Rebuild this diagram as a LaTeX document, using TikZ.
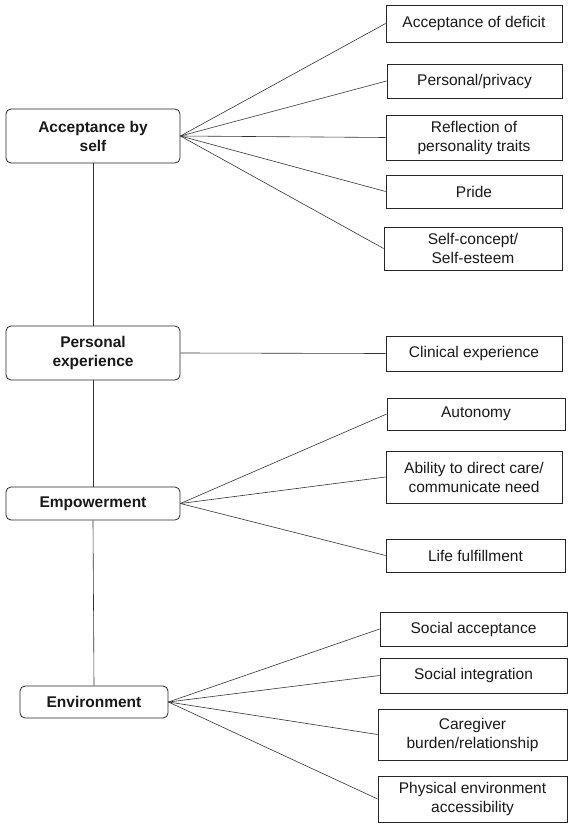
\documentclass[tikz,border=0pt]{standalone}
\usepackage{fontspec}
\setmainfont{Liberation Sans}
\begin{document}
\begin{tikzpicture}[x=1pt,y=-1pt,
  lbox/.style={draw=black!85, line width=0.8pt, rounded corners=5pt, align=center, inner sep=0pt,
    font=\fontsize{15.5}{19}\selectfont\bfseries, text=black!90},
  rbox/.style={draw=black!85, line width=0.8pt, align=center, inner sep=0pt,
    font=\fontsize{15.5}{19}\selectfont, text=black!90},
  link/.style={draw=black!80, line width=0.6pt}]
\useasboundingbox (0,0) rectangle (574,829);
% left boxes
\node[lbox, minimum width=174pt, minimum height=54pt] (ls) at (93,136) {Acceptance by\\self};
\node[lbox, minimum width=174pt, minimum height=54pt] (lp) at (93,353) {Personal\\experience};
\node[lbox, minimum width=174pt, minimum height=33pt] (le) at (93,503.5) {Empowerment};
\node[lbox, minimum width=148pt, minimum height=32pt] (lv) at (94,702) {Environment};
% right boxes
\node[rbox, minimum width=176pt, minimum height=37pt] (r1) at (474,23.5) {Acceptance of deficit};
\node[rbox, minimum width=175pt, minimum height=34pt] (r2) at (474.5,81) {Personal/privacy};
\node[rbox, minimum width=176pt, minimum height=45pt] (r3) at (474,137.5) {Reflection of\\personality traits};
\node[rbox, minimum width=176pt, minimum height=33pt] (r4) at (474,191.5) {Pride};
\node[rbox, minimum width=178pt, minimum height=43pt] (r5) at (473,248.5) {Self-concept/\\Self-esteem};
\node[rbox, minimum width=176pt, minimum height=35pt] (r6) at (474,353.5) {Clinical experience};
\node[rbox, minimum width=178pt, minimum height=32pt] (r7) at (476,414) {Autonomy};
\node[rbox, minimum width=176pt, minimum height=52pt] (r8) at (474,477) {Ability to direct care/\\communicate need};
\node[rbox, minimum width=179pt, minimum height=33pt] (r9) at (475.5,555.5) {Life fulfillment};
\node[rbox, minimum width=187pt, minimum height=34pt] (r10) at (473.5,629) {Social acceptance};
\node[rbox, minimum width=187pt, minimum height=35pt] (r11) at (473.5,675.5) {Social integration};
\node[rbox, minimum width=189pt, minimum height=51pt] (r12) at (472.5,734.5) {Caregiver\\burden/relationship};
\node[rbox, minimum width=189pt, minimum height=46pt] (r13) at (472.5,799) {Physical environment\\accessibility};
% spine
\draw[link] (ls.south) -- (lp.north);
\draw[link] (lp.south) -- (le.north);
\draw[link] (le.south) -- (lv.north);
% fans
\foreach \r in {r1,r2,r3,r4,r5} \draw[link] (ls.east) -- (\r.west);
\draw[link] (lp.east) -- (r6.west);
\foreach \r in {r7,r8,r9} \draw[link] (le.east) -- (\r.west);
\foreach \r in {r10,r11,r12,r13} \draw[link] (lv.east) -- (\r.west);
\end{tikzpicture}
\end{document}
